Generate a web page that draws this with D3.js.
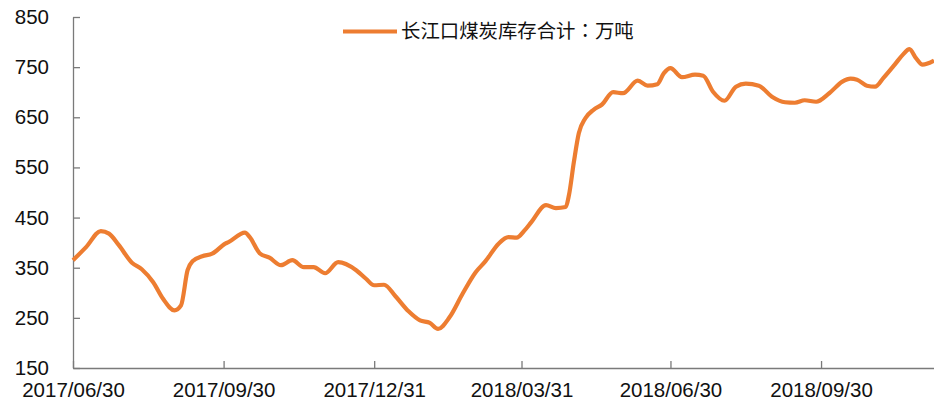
<!DOCTYPE html>
<html>
<head>
<meta charset="utf-8">
<script src="https://cdn.jsdelivr.net/npm/d3@7"></script>
<style>
  body { margin: 0; background: #fff; }
  svg { display: block; }
</style>
</head>
<body>
<div id="chart"></div>
<script>
// 长江口煤炭库存合计 (万吨)
var dates = [
    "2017-06-30", "2017-07-08", "2017-07-17", "2017-07-22", "2017-07-28", "2017-08-05",
    "2017-08-11", "2017-08-18", "2017-08-24", "2017-08-31", "2017-09-04", "2017-09-08",
    "2017-09-11", "2017-09-17", "2017-09-23", "2017-10-01", "2017-10-03", "2017-10-13",
    "2017-10-16", "2017-10-22", "2017-10-28", "2017-11-04", "2017-11-11", "2017-11-18",
    "2017-11-24", "2017-12-01", "2017-12-09", "2017-12-20", "2017-12-26", "2017-12-31",
    "2018-01-06", "2018-01-13", "2018-01-21", "2018-01-28", "2018-02-03", "2018-02-08",
    "2018-02-15", "2018-02-23", "2018-03-03", "2018-03-09", "2018-03-17", "2018-03-23",
    "2018-03-28", "2018-04-02", "2018-04-06", "2018-04-15", "2018-04-21", "2018-04-27",
    "2018-04-29", "2018-05-02", "2018-05-05", "2018-05-09", "2018-05-14", "2018-05-19",
    "2018-05-26", "2018-06-01", "2018-06-10", "2018-06-16", "2018-06-22", "2018-06-26",
    "2018-06-30", "2018-07-07", "2018-07-15", "2018-07-20", "2018-07-26", "2018-08-02",
    "2018-08-09", "2018-08-15", "2018-08-23", "2018-08-31", "2018-09-08", "2018-09-14",
    "2018-09-20", "2018-09-27", "2018-10-05", "2018-10-13", "2018-10-18", "2018-10-22",
    "2018-10-28", "2018-11-02", "2018-11-07", "2018-11-14", "2018-11-19", "2018-11-23",
    "2018-11-27", "2018-12-01", "2018-12-08"
];
var stock = [
    365, 391, 423, 418, 395, 360,
    347, 321, 288, 265, 275, 345,
    363, 373, 378, 398, 401, 420,
    411, 379, 370, 355, 365, 351,
    351, 339, 361, 345, 328, 315,
    316, 293, 263, 245, 240, 228,
    251, 298, 341, 363, 398, 411,
    410, 425, 441, 475, 469, 471,
    495, 561, 618, 648, 665, 675,
    700, 698, 723, 713, 716, 738,
    748, 730, 735, 733, 701, 683,
    711, 717, 713, 691, 680, 679,
    684, 681, 698, 721, 727, 725,
    713, 711, 728, 755, 775, 786,
    768, 755, 763
];
var yTicks = [150, 250, 350, 450, 550, 650, 750, 850];
var xTicks = ["2017-06-30", "2017-09-30", "2017-12-31", "2018-03-31", "2018-06-30", "2018-09-30"];
var xStart = "2017-06-30", xEnd = "2018-12-08";
var seriesName = ["长江口煤炭库存合计", "：", "万吨"];

var width = 934, height = 405,
    margin = { top: 17, right: 0, bottom: 37, left: 73 };
var parseDate = d3.timeParse("%Y-%m-%d");
var fmt = d3.timeFormat("%Y/%m/%d");

var data = dates.map(function (d, i) { return { date: parseDate(d), value: stock[i] }; });

var svg = d3.select("#chart").append("svg")
    .attr("width", width)
    .attr("height", height),
    chartWidth = width - margin.left - margin.right,
    chartHeight = height - margin.top - margin.bottom;

var g = svg.append("g")
    .attr("transform", "translate(" + margin.left + "," + margin.top + ")");

var x = d3.scaleTime()
    .domain([parseDate(xStart), parseDate(xEnd)])
    .range([0, chartWidth]);
var y = d3.scaleLinear()
    .domain([150, 850])
    .range([chartHeight, 0]);

// Left Axis:
var yAxis = g.append("g")
    .call(d3.axisLeft(y).tickValues(yTicks).tickSizeInner(-7).tickSizeOuter(0).tickPadding(24));
// Bottom Axis:
var xAxis = g.append("g")
    .attr("transform", "translate(0," + chartHeight + ")")
    .call(d3.axisBottom(x).tickValues(xTicks.map(parseDate)).tickFormat(fmt)
        .tickSizeInner(-7).tickSizeOuter(0).tickPadding(14));

[yAxis, xAxis].forEach(function (a) {
    a.selectAll("path, line").attr("stroke", "#7a7a7a").attr("stroke-width", 1.3);
    a.selectAll("text")
        .attr("fill", "#111")
        .style("font-family", "'Liberation Sans', Arial, sans-serif")
        .style("font-size", "20.5px");
});

// Line
var line = d3.line()
    .x(function (d) { return x(d.date); })
    .y(function (d) { return y(d.value); })
    .curve(d3.curveMonotoneX);

g.append("path")
    .datum(data)
    .attr("fill", "none")
    .attr("stroke", "#ED7D31")
    .attr("stroke-width", 4.2)
    .attr("stroke-linejoin", "round")
    .attr("d", line);

// Legend
var legend = svg.append("g").attr("transform", "translate(343,31.5)");
legend.append("line")
    .attr("x1", 0).attr("x2", 54)
    .attr("stroke", "#ED7D31").attr("stroke-width", 4);
var label = legend.append("text")
    .attr("x", 58)
    .attr("dy", "0.36em")
    .attr("fill", "#111")
    .style("font-family", "'Noto Sans CJK SC', sans-serif")
    .style("font-size", "19.4px");
label.append("tspan").text(seriesName[0]);
label.append("tspan").style("font-family", "'Noto Sans CJK TC', sans-serif").text(seriesName[1]);
label.append("tspan").text(seriesName[2]);
</script>
</body>
</html>
